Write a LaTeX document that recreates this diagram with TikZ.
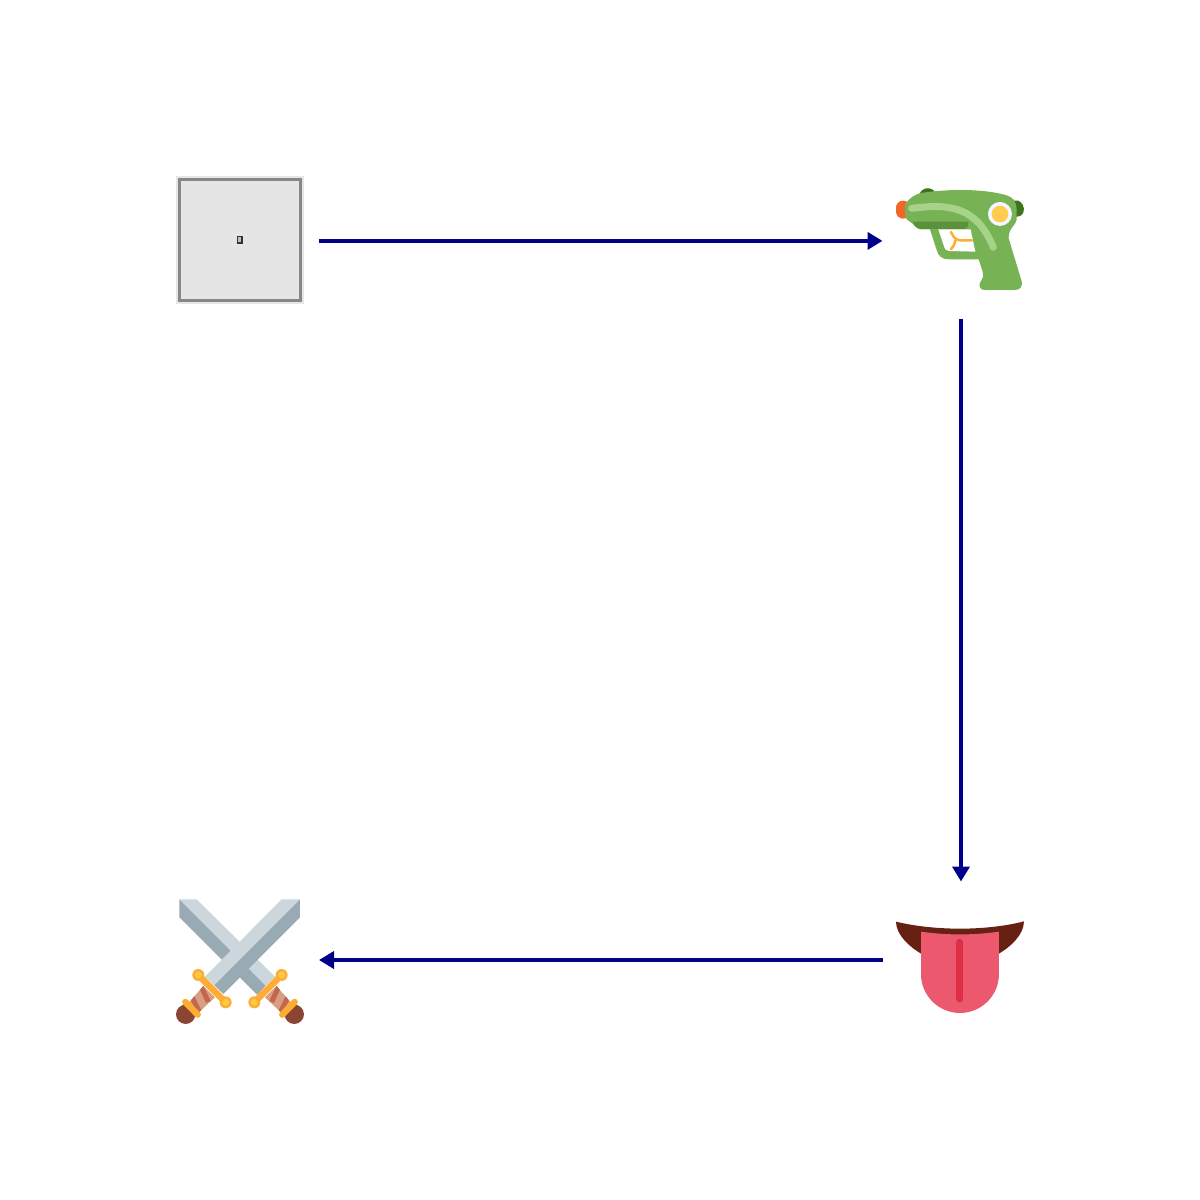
\documentclass[tikz,border=0pt]{standalone}
\usepackage{tikz}
\usetikzlibrary{arrows.meta,positioning,calc}
\usepackage{xcolor}
\definecolor{linkblue}{HTML}{00008B}
\definecolor{bodygreen}{HTML}{77B255}
\definecolor{darkgreen}{HTML}{5C913B}
\definecolor{knobgreen}{HTML}{3E721D}
\definecolor{palegreen}{HTML}{A6D388}
\definecolor{nozzle}{HTML}{F16529}
\definecolor{amber}{HTML}{FFAC33}
\definecolor{gold}{HTML}{FFCC4D}
\definecolor{mouthbrown}{HTML}{662113}
\definecolor{tonguepink}{HTML}{EC596F}
\definecolor{tonguered}{HTML}{DD2E44}
\definecolor{bladelight}{HTML}{CCD6DD}
\definecolor{bladedark}{HTML}{99AAB5}
\definecolor{gripdark}{HTML}{C1694F}
\definecolor{griplight}{HTML}{D99E82}
\definecolor{pommel}{HTML}{8A4633}
\begin{document}
\begin{tikzpicture}[x=0.1mm, y=-0.1mm,
    slot/.style={minimum size=15.7mm, inner sep=0pt, outer sep=0pt},
    link/.style={draw=linkblue, line width=0.38mm, -{Triangle[length=1.5mm, width=1.7mm]}},
    zoomed/.style={x=0.03333mm, y=-0.03333mm},
    guard/.style={draw=amber, line width=0.65mm, line cap=round}]
    \useasboundingbox (0, 0) rectangle (1200, 1200);

    % Placeholder box
    \fill[gray!20] (176, 176) rectangle (304, 304);
    \draw[draw=black!47, line width=0.27mm, fill=black!10] (179.3, 179.3) rectangle (300.7, 300.7);
    \node[draw=black!80, fill=black!25, line width=0.15mm, minimum width=0.45mm, minimum height=0.65mm, inner sep=0pt] (glyph) at (239.5, 239.5) {};

    % Water pistol
    \begin{scope}[shift={(860, 170)}, zoomed]
        \fill[knobgreen] (178, 72) .. controls (185, 55) and (205, 48) .. (222, 62) -- (225, 80) -- cycle;
        \fill[knobgreen] (450, 92) -- (475, 92) .. controls (488, 98) and (494, 112) .. (491, 125)
            .. controls (488, 135) and (480, 140) .. (470, 140) -- (450, 140) -- cycle;
        \fill[nozzle, rounded corners=2pt] (108, 92) rectangle (150, 146);
        \fill[bodygreen] (135, 105) .. controls (145, 85) and (165, 72) .. (190, 68)
            .. controls (280, 55) and (380, 58) .. (440, 76)
            .. controls (460, 82) and (468, 95) .. (470, 115) -- (470, 150)
            .. controls (468, 165) and (445, 175) .. (446, 205)
            -- (484, 330) .. controls (490, 350) and (480, 360) .. (465, 360)
            -- (375, 360) .. controls (355, 360) and (355, 340) .. (365, 330)
            .. controls (372, 322) and (370, 315) .. (368, 305)
            -- (356, 268) -- (268, 268) .. controls (245, 268) and (235, 258) .. (230, 240)
            -- (210, 178) -- (180, 178) .. controls (165, 175) and (160, 160) .. (150, 155)
            .. controls (138, 150) and (134, 140) .. (135, 125) -- cycle;
        \fill[white] (235, 178) -- (332, 178) -- (346, 245) -- (268, 243)
            .. controls (258, 242) and (255, 238) .. (253, 232) -- cycle;
        \fill[darkgreen] (158, 155) -- (325, 155) -- (325, 160) .. controls (325, 172) and (318, 177) .. (308, 177)
            -- (185, 177) .. controls (172, 177) and (165, 168) .. (158, 155) -- cycle;
        \draw[amber, line width=0.25mm, line cap=round] (273, 186) .. controls (280, 200) and (285, 210) .. (300, 211) -- (336, 211);
        \draw[amber, line width=0.25mm, line cap=round] (286, 212) .. controls (285, 222) and (280, 230) .. (273, 238);
        \draw[palegreen, line width=0.7mm, line cap=round] (155, 115) .. controls (270, 100) and (350, 110) .. (400, 232);
        \fill[white!96!blue] (420, 132) circle (36);
        \fill[gold] (420, 132) circle (25);
    \end{scope}
    \node[slot] (pistol) at (961, 240.9) {};

    % Tongue
    \begin{scope}[shift={(870, 860)}, zoomed]
        \fill[mouthbrown] (78, 185) .. controls (130, 198) and (200, 206) .. (270, 206)
            .. controls (340, 206) and (410, 198) .. (462, 184)
            .. controls (462, 225) and (420, 262) .. (385, 282) -- (155, 282)
            .. controls (120, 262) and (78, 225) .. (78, 185) -- cycle;
        \fill[tonguepink] (153, 215) .. controls (230, 226) and (310, 226) .. (387, 215)
            -- (387, 342) arc[start angle=0, end angle=180, radius=117] -- cycle;
        \draw[tonguered, line width=0.7mm, line cap=round] (270, 247) -- (270, 417);
    \end{scope}
    \node[slot] (tongue) at (961, 960) {};

    % Crossed swords
    \begin{scope}[shift={(160, 880)}, zoomed]
        \fill[bladelight] (58, 58) -- (110, 58) -- (345, 290) -- (317, 317) -- cycle;
        \fill[bladedark] (58, 58) -- (58, 112) -- (292, 345) -- (317, 317) -- cycle;
        \fill[bladelight] (365, 58) -- (420, 58) -- (163, 316) -- (135, 290) -- cycle;
        \fill[bladedark] (420, 58) -- (420, 112) -- (190, 342) -- (163, 316) -- cycle;
        \foreach \flip/\offs in {1/0, -1/480} {
            \begin{scope}[shift={(\offs, 0)}, xscale=\flip]
                \begin{scope}
                    \clip (130, 318) -- (165, 352) -- (112, 402) -- (85, 370) -- cycle;
                    \fill[griplight] (130, 318) -- (165, 352) -- (112, 402) -- (85, 370) -- cycle;
                    \draw[gripdark, line width=0.5mm] (120, 312) -- (145, 366);
                    \draw[gripdark, line width=0.5mm] (93, 345) -- (120, 400);
                \end{scope}
                \fill[pommel] (77, 403) circle (29);
                \draw[guard] (76, 366) -- (113, 404);
                \draw[guard] (115, 285) -- (197, 367);
                \foreach \cx/\cy in {115/285, 197/367} {
                    \fill[amber] (\cx, \cy) circle (18);
                    \fill[gold] (\cx, \cy) circle (10);
                }
            \end{scope}
        }
    \end{scope}
    \node[slot] (swords) at (240.5, 960) {};
    \node[slot] (placeholder) at (240.5, 240.9) {};

    % Connectors
    \draw[link] (placeholder) -- (pistol);
    \draw[link] (pistol) -- (tongue);
    \draw[link] (tongue) -- (swords);
\end{tikzpicture}
\end{document}
